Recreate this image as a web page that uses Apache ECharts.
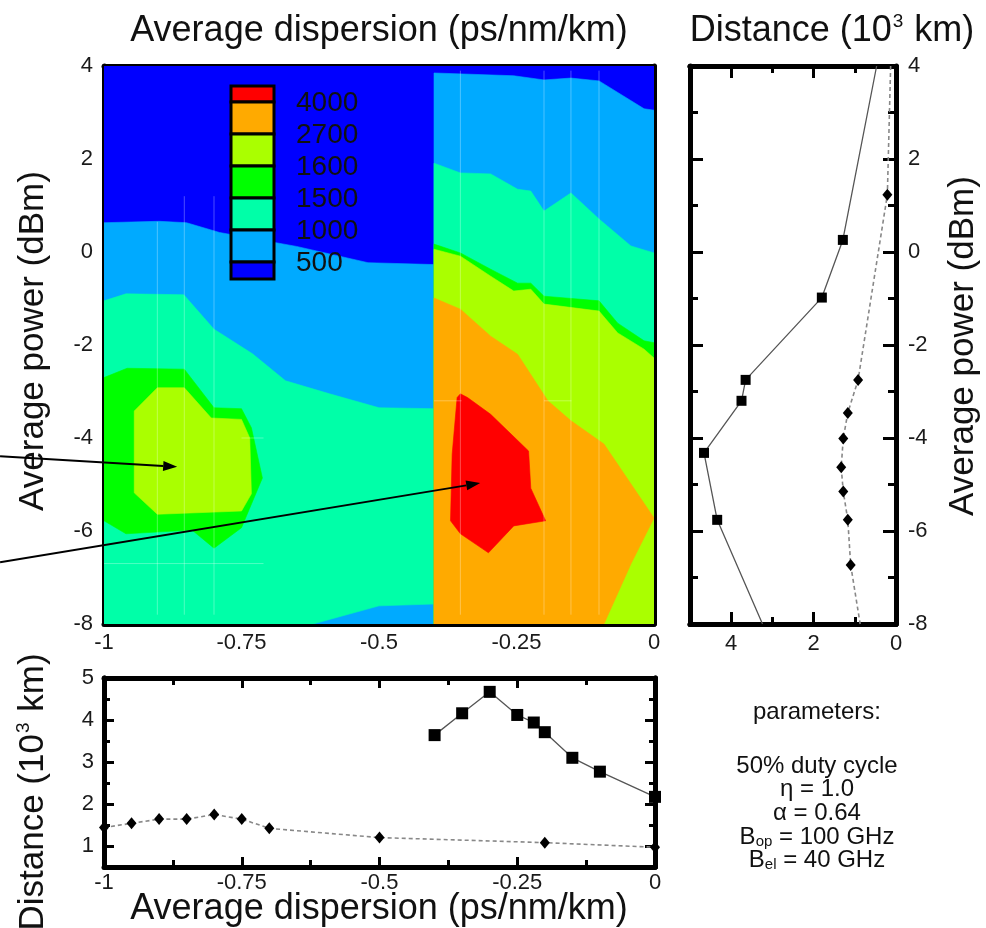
<!DOCTYPE html>
<html><head><meta charset="utf-8">
<script src="https://cdn.jsdelivr.net/npm/echarts@6/dist/echarts.min.js"></script>
<style>html,body{margin:0;padding:0;background:#fff}#c{width:986px;height:928px}</style>
</head><body><div id="c"></div>
<script>
const FONT = '"Liberation Sans", Arial, Helvetica, sans-serif';

// ---------------- data ----------------
// contour level colours: <500, 500-1000, 1000-1500, 1500-1600, 1600-2700, 2700-4000, >4000
const levelColors = ['#0000ff', '#00aaff', '#00ffa8', '#00ff00', '#aaff00', '#ffaa00', '#ff0000'];
const legendLabels = ['4000', '2700', '1600', '1500', '1000', '500'];

// contour regions, points are [dispersion (ps/nm/km), power (dBm)]
// left map (dispersion -1 .. -0.4)
const leftAll = [[-1, -8], [-0.4, -8], [-0.4, 4], [-1, 4]];
const leftAbove500 = [[-1, -8], [-0.4, -8], [-0.4, -0.27], [-0.52, -0.23], [-0.65, 0.12], [-0.79, 0.42], [-0.85, 0.63], [-0.9, 0.66], [-1, 0.63]];
const leftAbove1000 = [[-1, -8], [-0.62, -8], [-0.5, -7.61], [-0.4, -7.57], [-0.4, -3.37], [-0.5, -3.35], [-0.59, -3.05], [-0.67, -2.77], [-0.73, -2.19], [-0.8, -1.66], [-0.855, -0.92], [-0.96, -0.9], [-1, -1.05]];
const leftAbove1500 = [[-1, -2.7], [-0.958, -2.5], [-0.854, -2.52], [-0.8, -3.35], [-0.75, -3.37], [-0.732, -3.78], [-0.712, -4.86], [-0.75, -5.93], [-0.8, -6.37], [-0.84, -5.98], [-0.96, -6.06], [-1, -5.78]];
const leftAbove1600 = [[-0.945, -3.42], [-0.903, -2.92], [-0.854, -2.92], [-0.805, -3.57], [-0.75, -3.6], [-0.735, -4.0], [-0.732, -5.2], [-0.75, -5.57], [-0.903, -5.64], [-0.945, -5.18]];
// right map (dispersion -0.4 .. 0)
const rightAll = [[-0.4, -8], [0, -8], [0, 4], [-0.4, 4]];
const rightAbove500 = [[-0.4, -8], [0, -8], [0, 3.05], [-0.018, 3.08], [-0.1, 3.68], [-0.151, 3.74], [-0.2, 3.7], [-0.255, 3.79], [-0.4, 3.85]];
const rightAbove1000 = [[-0.4, -8], [0, -8], [0, -0.02], [-0.042, 0.13], [-0.1, 0.71], [-0.151, 1.27], [-0.2, 0.88], [-0.224, 1.31], [-0.248, 1.35], [-0.297, 1.68], [-0.352, 1.7], [-0.4, 1.91]];
const rightAbove1500 = [[-0.4, -8], [0, -8], [0, -1.95], [-0.018, -1.91], [-0.066, -1.53], [-0.1, -1.05], [-0.2, -0.95], [-0.224, -0.67], [-0.248, -0.67], [-0.297, -0.37], [-0.352, -0.02], [-0.4, 0.17]];
const rightAbove1600 = [[-0.4, -8], [0, -8], [0, -2.28], [-0.018, -2.09], [-0.066, -1.74], [-0.1, -1.27], [-0.2, -1.12], [-0.224, -0.8], [-0.255, -0.84], [-0.297, -0.52], [-0.352, -0.09], [-0.4, 0.06]];
const rightAbove2700 = [[-0.4, -8], [-0.091, -8], [-0.042, -6.71], [0, -5.72], [-0.091, -4.13], [-0.151, -3.63], [-0.193, -3.2], [-0.248, -2.2], [-0.297, -1.81], [-0.352, -1.23], [-0.4, -0.99]];
const rightAbove4000 = [[-0.358, -3.13], [-0.352, -3.05], [-0.339, -3.13], [-0.297, -3.49], [-0.228, -4.28], [-0.224, -5.08], [-0.197, -5.78], [-0.255, -5.89], [-0.301, -6.47], [-0.352, -6.06], [-0.37, -5.78], [-0.367, -4.35]];

// faint sampling-grid lines visible over the map: [[x1,y1],[x2,y2]]
const faintLines = [
  [[-0.903, 0.65], [-0.903, -7.8]], [[-0.854, 1.2], [-0.854, -7.8]], [[-0.80, 1.2], [-0.80, -7.8]],
  [[-1, -6.7], [-0.71, -6.7]], [[-0.75, -4.0], [-0.71, -4.0]],
  [[-0.352, 3.9], [-0.352, -7.8]], [[-0.2, 3.9], [-0.2, -7.8]], [[-0.151, 3.9], [-0.151, -7.8]], [[-0.1, 3.9], [-0.1, -7.8]],
  [[-0.4, -3.2], [-0.35, -3.2]], [[-0.2, -3.2], [-0.15, -3.2]]
];

// right panel: [distance (1e3 km), power (dBm)]
const powerSolid = [[0.47, 4], [1.29, 0.26], [1.80, -0.98], [3.65, -2.75], [3.75, -3.2], [4.66, -4.32], [4.34, -5.76], [3.24, -8]];
const powerDashed = [[0.13, 4], [0.21, 1.23], [0.92, -2.75], [1.17, -3.46], [1.28, -4.01], [1.33, -4.63], [1.28, -5.15], [1.17, -5.76], [1.10, -6.73], [0.87, -8]];
// bottom panel: [dispersion, distance (1e3 km)]
const dispSolid = [[-0.4, 3.64], [-0.35, 4.16], [-0.3, 4.67], [-0.25, 4.12], [-0.22, 3.94], [-0.2, 3.71], [-0.15, 3.10], [-0.1, 2.77], [0, 2.17]];
const dispDashed = [[-1, 1.44], [-0.95, 1.54], [-0.9, 1.64], [-0.85, 1.64], [-0.8, 1.75], [-0.75, 1.64], [-0.7, 1.42], [-0.5, 1.20], [-0.2, 1.08], [0, 0.97]];

// annotation arrows: tail -> tip, in main-plot data coordinates
const arrowTails = [[-1.189, -4.39], [-1.189, -6.67]];
const arrowTips = [[-0.867, -4.62], [-0.316, -4.97]];

const paramLines = ['50% duty cycle', '\u03b7 = 1.0', '\u03b1 = 0.64'];

// ---------------- build ----------------
const contourLayers = [
  [leftAll, 0], [leftAbove500, 1], [leftAbove1000, 2], [leftAbove1500, 3], [leftAbove1600, 4],
  [rightAll, 0], [rightAbove500, 1], [rightAbove1000, 2], [rightAbove1500, 3], [rightAbove1600, 4], [rightAbove2700, 5], [rightAbove4000, 6]
];

const chart = echarts.init(document.getElementById('c'), null, {renderer: 'canvas'});

const axLine = {show: true, onZero: false, lineStyle: {color: '#000', width: 5}};
const tick = (len) => ({show: true, inside: true, length: len, lineStyle: {color: '#000', width: 3}});
const minor = (len) => ({show: true, splitNumber: 2, length: len, lineStyle: {color: '#000', width: 3}});
const lbl = (extra) => Object.assign({color: '#1a1a1a', fontFamily: FONT, fontSize: 22}, extra || {});
const noLbl = {show: false};
const noSplit = {show: false};

function valAxis(o) {
  return Object.assign({type: 'value', axisLine: axLine, splitLine: noSplit, axisLabel: noLbl, axisTick: tick(12)}, o);
}

const xAxis = [
  valAxis({gridIndex: 0, position: 'bottom', min: -1, max: 0, interval: 0.25, minorTick: minor(7), axisLabel: lbl({margin: 8})}),
  valAxis({gridIndex: 0, position: 'top', min: -1, max: 0, interval: 0.25, minorTick: minor(7)}),
  valAxis({gridIndex: 1, position: 'bottom', min: 0, max: 5, inverse: true, interval: 2,
    axisLabel: lbl({margin: 9, showMaxLabel: false, formatter: v => (v % 2 === 0 ? String(v) : '')})}),
  valAxis({gridIndex: 1, position: 'bottom', min: 0, max: 5, inverse: true, interval: 1, axisTick: tick(7)}),
  valAxis({gridIndex: 1, position: 'top', min: 0, max: 5, inverse: true, interval: 2}),
  valAxis({gridIndex: 1, position: 'top', min: 0, max: 5, inverse: true, interval: 1, axisTick: tick(7)}),
  valAxis({gridIndex: 2, position: 'bottom', min: -1, max: 0, interval: 0.25, axisTick: tick(10), minorTick: minor(7), axisLabel: lbl({margin: 5})}),
  valAxis({gridIndex: 2, position: 'top', min: -1, max: 0, interval: 0.25, axisTick: tick(10), minorTick: minor(7)})
];

const yAxis = [
  valAxis({gridIndex: 0, position: 'left', min: -8, max: 4, interval: 2, axisTick: tick(13), minorTick: minor(8), axisLabel: lbl({margin: 11})}),
  valAxis({gridIndex: 0, position: 'right', min: -8, max: 4, interval: 2, axisTick: tick(13), minorTick: minor(8)}),
  valAxis({gridIndex: 1, position: 'right', min: -8, max: 4, interval: 2, axisTick: tick(13), minorTick: minor(8), axisLabel: lbl({margin: 12})}),
  valAxis({gridIndex: 1, position: 'left', min: -8, max: 4, interval: 2, axisTick: tick(13), minorTick: minor(8)}),
  valAxis({gridIndex: 2, position: 'left', min: 0.5, max: 5, splitNumber: 5, axisTick: tick(10), axisLabel: lbl({margin: 10, showMinLabel: false})}),
  valAxis({gridIndex: 2, position: 'left', min: 0.5, max: 5, interval: 0.5, axisTick: tick(6)}),
  valAxis({gridIndex: 2, position: 'right', min: 0.5, max: 5, splitNumber: 5, axisTick: tick(10)}),
  valAxis({gridIndex: 2, position: 'right', min: 0.5, max: 5, interval: 0.5, axisTick: tick(6)})
];

const contourSeries = {
  type: 'custom', xAxisIndex: 0, yAxisIndex: 0, clip: true, silent: true,
  data: contourLayers.map((l, i) => [-0.5, -2, i]),
  renderItem: function (params, api) {
    const layer = contourLayers[params.dataIndex];
    const pts = layer[0].map(p => api.coord(p));
    const c = levelColors[layer[1]];
    return {type: 'polygon', shape: {points: pts}, style: {fill: c, stroke: c, lineWidth: 0.6}};
  },
  z: 1
};

const faintSeries = {
  type: 'custom', xAxisIndex: 0, yAxisIndex: 0, clip: true, silent: true,
  data: faintLines.map((l, i) => [-0.5, -2, i]),
  renderItem: function (params, api) {
    const seg = faintLines[params.dataIndex];
    const a = api.coord(seg[0]), b = api.coord(seg[1]);
    return {type: 'line', shape: {x1: a[0], y1: a[1], x2: b[0], y2: b[1]}, style: {stroke: 'rgba(255,255,255,0.3)', lineWidth: 1}};
  },
  z: 2
};

function endpointsNoSymbol(arr) {
  return arr.map((p, i) => (i === 0 || i === arr.length - 1) ? {value: p, symbol: 'none'} : {value: p});
}

const series = [
  contourSeries, faintSeries,
  {type: 'line', xAxisIndex: 2, yAxisIndex: 2, data: endpointsNoSymbol(powerSolid), symbol: 'rect', symbolSize: 10,
    lineStyle: {color: '#555', width: 1.3}, itemStyle: {color: '#000'}, z: 3},
  {type: 'line', xAxisIndex: 2, yAxisIndex: 2, data: endpointsNoSymbol(powerDashed), symbol: 'diamond', symbolSize: [10, 12],
    lineStyle: {color: '#888', width: 1.6, type: [4, 3]}, itemStyle: {color: '#000'}, z: 3},
  {type: 'line', xAxisIndex: 6, yAxisIndex: 4, data: dispSolid, symbol: 'rect', symbolSize: 12,
    lineStyle: {color: '#555', width: 1.3}, itemStyle: {color: '#000'}, clip: false, z: 3},
  {type: 'line', xAxisIndex: 6, yAxisIndex: 4, data: dispDashed, symbol: 'diamond', symbolSize: [10, 12],
    lineStyle: {color: '#888', width: 1.6, type: [4, 3]}, itemStyle: {color: '#000'}, clip: false, z: 3}
];

// legend (colour key)
const legendX = 231, legendTop = 86, legendW = 43;
const legendHeights = [16, 32, 32, 32, 32, 32, 17];
const legendGraphics = [];
let yCur = legendTop;
const boundaries = [];
for (let i = 0; i < legendHeights.length; i++) {
  const colIdx = levelColors.length - 1 - i;
  legendGraphics.push({type: 'rect', id: 'lg' + i, shape: {x: legendX, y: yCur, width: legendW, height: legendHeights[i]},
    style: {fill: levelColors[colIdx], stroke: '#000', lineWidth: 3}, z: 50});
  yCur += legendHeights[i];
  if (i < legendHeights.length - 1) boundaries.push(yCur);
}
legendLabels.forEach((t, i) => {
  legendGraphics.push({type: 'text', id: 'lt' + i, x: 296, y: boundaries[i] + 1, z: 50,
    style: {text: t, font: '28px ' + FONT, fill: '#111', textAlign: 'left', textVerticalAlign: 'middle'}});
});

const titleFont = '36px ' + FONT;
const yTitleFont = '35px ' + FONT;
const supRich = (f) => ({a: {font: f, fill: '#111', lineHeight: 38}, s: {font: '19px ' + FONT, fill: '#111', verticalAlign: 'top', lineHeight: 38, padding: [0, 1, 0, 1]}});
const texts = [
  {type: 'text', id: 't1', x: 379, y: 31, style: {text: 'Average dispersion (ps/nm/km)', font: titleFont, fill: '#111', textAlign: 'center', textVerticalAlign: 'middle'}},
  {type: 'text', id: 't2', x: 832, y: 31, style: {text: '{a|Distance (10}{s|3}{a| km)}', fill: '#111', textAlign: 'center', textVerticalAlign: 'middle', rich: supRich(titleFont)}},
  {type: 'text', id: 't3', x: 33, y: 341, rotation: Math.PI / 2, style: {text: 'Average power (dBm)', font: yTitleFont, fill: '#111', textAlign: 'center', textVerticalAlign: 'middle'}},
  {type: 'text', id: 't4', x: 963, y: 346, rotation: Math.PI / 2, style: {text: 'Average power (dBm)', font: yTitleFont, fill: '#111', textAlign: 'center', textVerticalAlign: 'middle'}},
  {type: 'text', id: 't5', x: 33, y: 792, rotation: Math.PI / 2, style: {text: '{a|Distance (10}{s|3}{a| km)}', fill: '#111', textAlign: 'center', textVerticalAlign: 'middle', rich: supRich(yTitleFont)}},
  {type: 'text', id: 't6', x: 379, y: 909, style: {text: 'Average dispersion (ps/nm/km)', font: titleFont, fill: '#111', textAlign: 'center', textVerticalAlign: 'middle'}},
  {type: 'text', id: 'p0', x: 817, y: 712, style: {text: 'parameters:', font: '24px ' + FONT, fill: '#111', textAlign: 'center', textVerticalAlign: 'middle'}}
];
paramLines.forEach((t, i) => {
  texts.push({type: 'text', id: 'pl' + i, x: 817, y: 766 + i * 23.5, style: {text: t, font: '24px ' + FONT, fill: '#111', textAlign: 'center', textVerticalAlign: 'middle'}});
});
const subRich = {a: {font: '24px ' + FONT, fill: '#111', lineHeight: 24}, s: {font: '15px ' + FONT, fill: '#111', verticalAlign: 'bottom', lineHeight: 6}};
texts.push({type: 'text', id: 'pb1', x: 817, y: 837, style: {text: '{a|B}{s|op}{a| = 100 GHz}', textAlign: 'center', textVerticalAlign: 'middle', rich: subRich}});
texts.push({type: 'text', id: 'pb2', x: 817, y: 860, style: {text: '{a|B}{s|el}{a| = 40 GHz}', textAlign: 'center', textVerticalAlign: 'middle', rich: subRich}});

chart.setOption({
  animation: false,
  backgroundColor: '#fff',
  textStyle: {fontFamily: FONT},
  grid: [
    {left: 104, top: 66, width: 550, height: 558},
    {left: 690, top: 66, width: 206, height: 558},
    {left: 104, top: 678, width: 551, height: 189}
  ],
  xAxis: xAxis,
  yAxis: yAxis,
  series: series,
  graphic: legendGraphics.concat(texts)
});

// arrows computed through the main plot's scales
const arrowGraphics = [];
arrowTips.forEach((tip, i) => {
  const a = chart.convertToPixel({gridIndex: 0}, arrowTails[i]);
  const b = chart.convertToPixel({gridIndex: 0}, tip);
  const ang = Math.atan2(b[1] - a[1], b[0] - a[0]);
  const hl = 14, hw = 5;
  const bx = b[0] - hl * Math.cos(ang), by = b[1] - hl * Math.sin(ang);
  arrowGraphics.push({type: 'line', id: 'al' + i, z: 60, shape: {x1: a[0], y1: a[1], x2: bx, y2: by}, style: {stroke: '#000', lineWidth: 2}});
  arrowGraphics.push({type: 'polygon', id: 'ah' + i, z: 60, shape: {points: [
    [b[0], b[1]],
    [bx + hw * Math.sin(ang), by - hw * Math.cos(ang)],
    [bx - hw * Math.sin(ang), by + hw * Math.cos(ang)]
  ]}, style: {fill: '#000'}});
});
chart.setOption({graphic: arrowGraphics});
</script>
</body></html>
